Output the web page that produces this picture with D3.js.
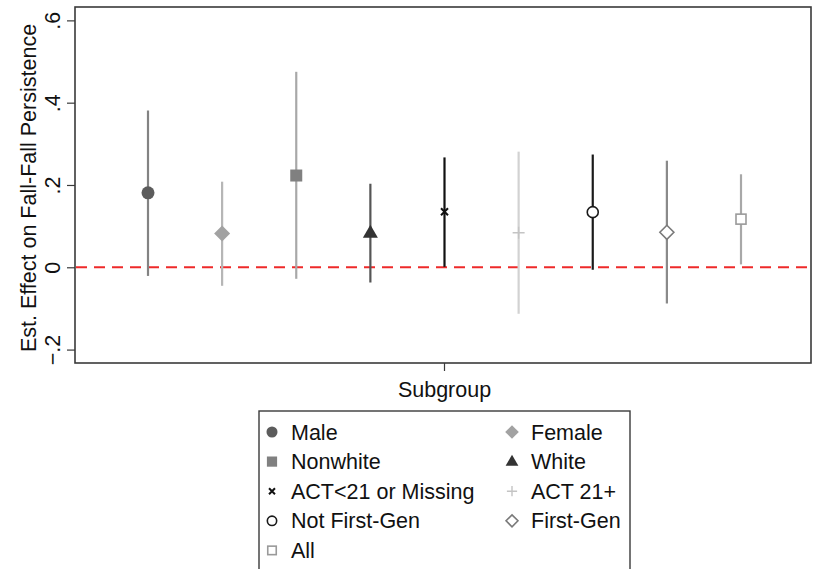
<!DOCTYPE html>
<html>
<head>
<meta charset="utf-8">
<script src="https://cdn.jsdelivr.net/npm/d3@7"></script>
<style>
  body { margin: 0; background: #fff; }
  svg { display: block; font-family: "Liberation Sans", Arial, sans-serif; }
</style>
</head>
<body>
<svg id="chart" width="813" height="569"></svg>
<script>
// Subgroup estimates with 95% confidence intervals
const groups   = ["Male", "Female", "Nonwhite", "White", "ACT<21 or Missing", "ACT 21+", "Not First-Gen", "First-Gen", "All"];
const estimate = [0.181, 0.082, 0.223, 0.084, 0.135, 0.084, 0.134, 0.085, 0.117];
const ciLow    = [-0.021, -0.045, -0.028, -0.037, 0.001, -0.113, -0.006, -0.088, 0.007];
const ciHigh   = [0.381, 0.208, 0.475, 0.203, 0.267, 0.281, 0.274, 0.259, 0.226];
const yTicks   = [-0.2, 0, 0.2, 0.4, 0.6];

// Marker styling per subgroup
const shapes      = ["circle", "diamond", "square", "triangle", "x", "plus", "circleO", "diamondO", "squareO"];
const markColors  = ["#5c5c5c", "#a2a2a2", "#808080", "#333333", "#111111", "#c4c4c4", "#1a1a1a", "#7a7a7a", "#9a9a9a"];
const lineColors  = ["#838383", "#b6b6b6", "#a8a8a8", "#555555", "#111111", "#d2d2d2", "#1a1a1a", "#8a8a8a", "#a8a8a8"];

const FONT = 21.5;
const svg = d3.select("#chart");
const plot = { left: 75, right: 811, top: 7, bottom: 363 };

const y = d3.scaleLinear().domain([-0.2326, 0.6325]).range([plot.bottom, plot.top]);
const x = d3.scalePoint().domain(groups).range([148, 741]);

// Plot frame
svg.append("rect")
  .attr("x", plot.left).attr("y", plot.top)
  .attr("width", plot.right - plot.left).attr("height", plot.bottom - plot.top)
  .attr("fill", "none").attr("stroke", "#3a3a3a").attr("stroke-width", 1.6);

// Y axis
const fmt = d => d === 0 ? "0" : d3.format(".1f")(d).replace("0.", ".");
const yAxis = svg.append("g")
  .attr("transform", `translate(${plot.left},0)`)
  .call(d3.axisLeft(y).tickValues(yTicks).tickFormat(fmt).tickSize(8).tickSizeOuter(0));
yAxis.select(".domain").remove();
yAxis.selectAll(".tick line").attr("stroke", "#3a3a3a").attr("stroke-width", 1.2);
yAxis.selectAll(".tick text")
  .attr("x", null).attr("dy", null)
  .attr("transform", "translate(-15,0) rotate(-90)")
  .attr("text-anchor", "middle")
  .attr("font-size", FONT).attr("fill", "#111");

svg.append("text")
  .attr("transform", `translate(36,${(plot.top + plot.bottom) / 2 + 3}) rotate(-90)`)
  .attr("text-anchor", "middle")
  .attr("font-size", FONT).attr("fill", "#111")
  .text("Est. Effect on Fall-Fall Persistence");

// X axis: single centre tick
const xMid = (x(groups[0]) + x(groups[groups.length - 1])) / 2;
svg.append("line")
  .attr("x1", xMid).attr("x2", xMid).attr("y1", plot.bottom).attr("y2", plot.bottom + 8)
  .attr("stroke", "#3a3a3a").attr("stroke-width", 1.2);
svg.append("text")
  .attr("x", xMid).attr("y", 397)
  .attr("text-anchor", "middle").attr("font-size", FONT).attr("fill", "#111")
  .text("Subgroup");

// Zero reference line
svg.append("line")
  .attr("x1", plot.left + 1).attr("x2", plot.right)
  .attr("y1", y(0)).attr("y2", y(0))
  .attr("stroke", "#ee2a2a").attr("stroke-width", 2)
  .attr("stroke-dasharray", "11,7");

// Marker drawing
function drawMarker(g, shape, color, s) {
  switch (shape) {
    case "circle":
      g.append("circle").attr("r", 6.5 * s).attr("fill", color); break;
    case "circleO":
      g.append("circle").attr("r", 5.5 * s).attr("fill", "#fff").attr("stroke", color).attr("stroke-width", 1.6); break;
    case "diamond":
      g.append("path").attr("d", `M0,${-8*s}L${8*s},0L0,${8*s}L${-8*s},0Z`).attr("fill", color); break;
    case "diamondO":
      g.append("path").attr("d", `M0,${-7*s}L${7*s},0L0,${7*s}L${-7*s},0Z`).attr("fill", "#fff").attr("stroke", color).attr("stroke-width", 1.6); break;
    case "square":
      g.append("rect").attr("x", -6*s).attr("y", -6*s).attr("width", 12*s).attr("height", 12*s).attr("fill", color); break;
    case "squareO":
      g.append("rect").attr("x", -5*s).attr("y", -5*s).attr("width", 10*s).attr("height", 10*s).attr("fill", "#fff").attr("stroke", color).attr("stroke-width", 1.6); break;
    case "triangle":
      g.append("path").attr("d", `M0,${-8*s}L${7.5*s},${5*s}L${-7.5*s},${5*s}Z`).attr("fill", color); break;
    case "x":
      g.append("path").attr("d", `M${-3.5*s},${-3.5*s}L${3.5*s},${3.5*s}M${3.5*s},${-3.5*s}L${-3.5*s},${3.5*s}`).attr("stroke", color).attr("stroke-width", 2); break;
    case "plus":
      g.append("path").attr("d", `M${-6*s},0L${6*s},0M0,${-6*s}L0,${6*s}`).attr("stroke", color).attr("stroke-width", 1.4); break;
  }
}

// Confidence interval spikes and point estimates
groups.forEach((gname, i) => {
  svg.append("line")
    .attr("x1", x(gname)).attr("x2", x(gname))
    .attr("y1", y(ciLow[i])).attr("y2", y(ciHigh[i]))
    .attr("stroke", lineColors[i]).attr("stroke-width", 2.2);
  const g = svg.append("g").attr("transform", `translate(${x(gname)},${y(estimate[i])})`);
  drawMarker(g, shapes[i], markColors[i], 1);
});

// Legend
const legend = svg.append("g");
legend.append("rect")
  .attr("x", 259).attr("y", 411).attr("width", 371).attr("height", 170)
  .attr("fill", "#fff").attr("stroke", "#3a3a3a").attr("stroke-width", 1.4);
groups.forEach((gname, i) => {
  const col = i % 2, row = Math.floor(i / 2);
  const mx = col === 0 ? 272 : 512;
  const my = 432 + row * 29.6;
  const g = legend.append("g").attr("transform", `translate(${mx},${my})`);
  drawMarker(g, shapes[i], markColors[i], 0.85);
  legend.append("text")
    .attr("x", mx + 19).attr("y", my + 7.5)
    .attr("font-size", FONT).attr("fill", "#111")
    .text(gname);
});
</script>
</body>
</html>
